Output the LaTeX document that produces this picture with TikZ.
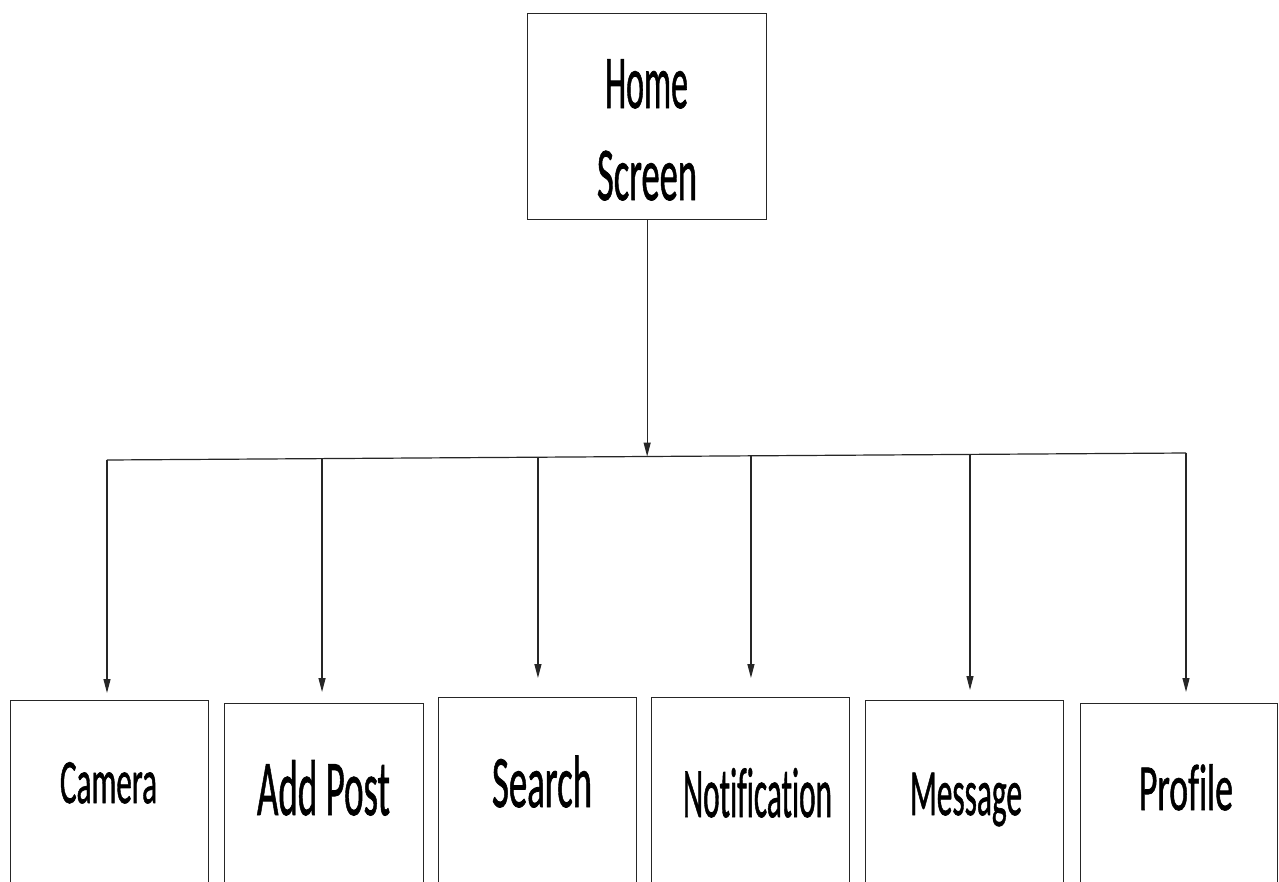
\documentclass[tikz,border=0pt]{standalone}
\usepackage{fontspec}
\setmainfont[Ligatures=CommonOff,FakeBold=1.2,BoldFont=Carlito]{Carlito}
\usetikzlibrary{arrows.meta,calc}
\newsavebox\sqzbox
\newcommand{\sqz}[3]{\begingroup\fontsize{#1}{#1}\selectfont\bfseries\sbox\sqzbox{#3}\pgfmathsetmacro\sqzf{#2/\the\wd\sqzbox}\scalebox{\sqzf}[1]{\usebox\sqzbox}\endgroup}
\begin{document}
\begin{tikzpicture}[x=1pt,y=-1pt,
  scrbox/.style={draw=black!85,line width=1.3pt,rectangle,inner sep=0pt,anchor=north west,minimum height=260pt,minimum width=198pt},
  lbl/.style={anchor=base,inner sep=0pt},
  conn/.style={draw=black!85,line width=1.2pt},
  arr/.style={conn,-{Triangle[length=14pt,width=7pt]}}]
\clip (0,0) rectangle (1279,881);
\fill[white] (0,0) rectangle (1279,881);
% top box
\node[scrbox,minimum width=239pt,minimum height=206pt] (home) at (527,13) {};
\node[lbl] (homet) at (646.5,108) {\sqz{76}{83}{Home}};
\node[lbl] (screent) at (647,200) {\sqz{76}{100}{Screen}};
% bottom boxes
\node[scrbox] (camera) at (10,700) {};
\node[scrbox,minimum width=199pt] (addpost) at (224,703) {};
\node[scrbox] (search) at (438,697) {};
\node[scrbox] (notif) at (651,697) {};
\node[scrbox] (message) at (865,700) {};
\node[scrbox,minimum width=197pt] (profile) at (1080,703) {};
\node[lbl] (camerat) at (108.5,803) {\sqz{63}{97}{Camera}};
\node[lbl] (addpostt) at (323.5,815) {\sqz{79}{133}{Add Post}};
\node[lbl] (searcht) at (542,807) {\sqz{74}{100}{Search}};
\node[lbl] (notift) at (757.5,817) {\sqz{71}{149}{Notification}};
\node[lbl] (messaget) at (966,815) {\sqz{66}{112}{Message}};
\node[lbl] (profilet) at (1186,810) {\sqz{66}{94}{Profile}};
% bus
\coordinate (L) at (107,460);
\coordinate (R) at (1186,453);
\draw[conn] (L) -- (R);
\coordinate (hb) at ($(L)!0.5!(R)$);
\draw[arr] (home.south) -- (home.south |- hb);
\coordinate (b1) at (L);
\coordinate (b2) at ($(L)!0.1993!(R)$);
\coordinate (b3) at ($(L)!0.3994!(R)$);
\coordinate (b4) at ($(L)!0.5968!(R)$);
\coordinate (b5) at ($(L)!0.7998!(R)$);
\coordinate (b6) at (R);
\draw[arr,shorten >=7pt] (b1) -- (b1 |- camera.north);
\draw[arr,shorten >=11pt] (b2) -- (b2 |- addpost.north);
\draw[arr,shorten >=19pt] (b3) -- (b3 |- search.north);
\draw[arr,shorten >=19pt] (b4) -- (b4 |- notif.north);
\draw[arr,shorten >=10pt] (b5) -- (b5 |- message.north);
\draw[arr,shorten >=11pt] (b6) -- (b6 |- profile.north);
\end{tikzpicture}
\end{document}
